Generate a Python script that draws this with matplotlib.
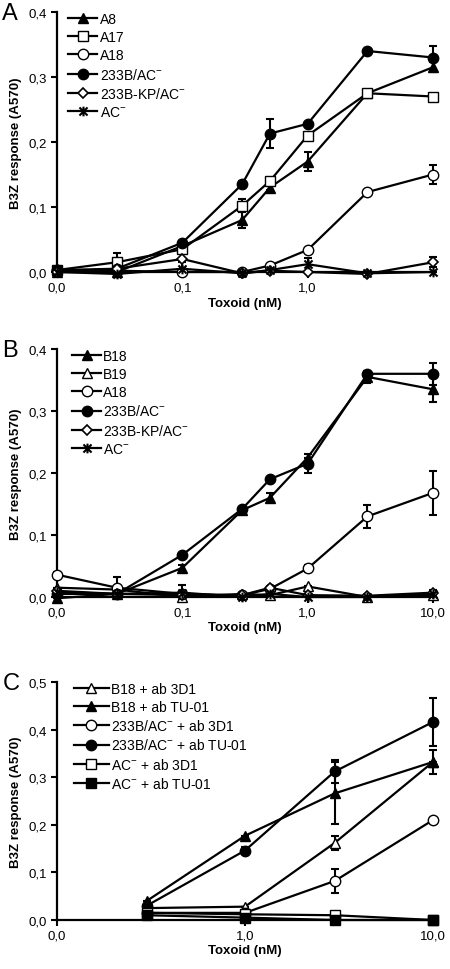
import numpy as np
import matplotlib
matplotlib.use('Agg')
import matplotlib.pyplot as plt
from matplotlib.path import Path

plt.rcParams['font.family'] = ['Liberation Sans', 'DejaVu Sans']
plt.rcParams['mathtext.fontset'] = 'custom'
plt.rcParams['mathtext.rm'] = 'Liberation Sans'

# doses (nM); the first point stands for no toxoid
dose_ab = [0.01, 0.03, 0.1, 0.3, 0.5, 1.0, 3.0, 10.0]
dose_c = [0.3, 1.0, 3.0, 10.0]

# panel A
a_A8 = [0.0, 0.0, 0.04, 0.08, 0.13, 0.17, 0.275, 0.315]
a_A8_err = [0, 0, 0, 0.012, 0.004, 0.015, 0, 0.008]
a_A17 = [0.003, 0.015, 0.035, 0.102, 0.14, 0.21, 0.275, 0.27]
a_A17_err = [0, 0.015, 0, 0.01, 0, 0, 0, 0]
a_A18 = [0.003, 0.002, 0.0, 0.0, 0.01, 0.034, 0.123, 0.15]
a_A18_err = [0, 0, 0, 0, 0, 0, 0, 0.015]
a_233B = [0.003, 0.005, 0.045, 0.135, 0.213, 0.228, 0.34, 0.33]
a_233B_err = [0, 0, 0, 0.005, 0.022, 0, 0, 0.018]
a_KP = [0.0, 0.005, 0.02, -0.002, 0.002, 0.0, -0.003, 0.015]
a_KP_err = [0, 0, 0, 0, 0, 0, 0, 0.008]
a_AC = [0.0, -0.003, 0.005, -0.002, 0.003, 0.012, -0.002, 0.0]
a_AC_err = [0, 0, 0.01, 0, 0, 0.01, 0, 0]

# panel B
b_B18 = [-0.002, 0.005, 0.047, 0.14, 0.16, 0.225, 0.355, 0.335]
b_B18_err = [0, 0, 0.005, 0, 0.007, 0, 0.01, 0.02]
b_B19 = [0.015, 0.012, 0.0, 0.005, 0.003, 0.017, 0.0, 0.003]
b_B19_err = [0, 0, 0, 0, 0, 0, 0, 0]
b_A18 = [0.036, 0.015, 0.005, 0.003, 0.013, 0.046, 0.13, 0.168]
b_A18_err = [0.005, 0.018, 0, 0, 0, 0.005, 0.018, 0.036]
b_233B = [0.005, 0.005, 0.068, 0.142, 0.19, 0.215, 0.36, 0.36]
b_233B_err = [0, 0, 0, 0, 0, 0.015, 0, 0.018]
b_KP = [0.01, 0.005, 0.003, 0.003, 0.015, 0.003, 0.002, 0.007]
b_KP_err = [0, 0, 0, 0, 0, 0, 0, 0.005]
b_AC = [0.008, 0.005, 0.007, 0.0, 0.005, 0.0, 0.0, 0.005]
b_AC_err = [0, 0, 0.012, 0, 0, 0, 0, 0]

# panel C
c_B18_3D1 = [0.025, 0.028, 0.162, 0.332]
c_B18_3D1_err = [0, 0, 0.015, 0.025]
c_B18_TU = [0.04, 0.177, 0.266, 0.332]
c_B18_TU_err = [0, 0, 0.065, 0]
c_233B_3D1 = [0.015, 0.015, 0.082, 0.21]
c_233B_3D1_err = [0, 0, 0.025, 0.005]
c_233B_TU = [0.03, 0.146, 0.312, 0.416]
c_233B_TU_err = [0, 0.008, 0.025, 0.05]
c_AC_3D1 = [0.015, 0.012, 0.01, 0.0]
c_AC_3D1_err = [0, 0, 0, 0]
c_AC_TU = [0.01, 0.005, 0.0, 0.0]
c_AC_TU_err = [0, 0, 0, 0]

AC = 'AC$^{-}$'

# asterisk-like marker: X plus vertical stroke
star = Path([(-1, -1), (1, 1), (-1, 1), (1, -1), (0, -1.2), (0, 1.2)],
            [Path.MOVETO, Path.LINETO, Path.MOVETO, Path.LINETO, Path.MOVETO, Path.LINETO])

STY = {
    'tri_f': dict(marker='^', mfc='black', ms=7),
    'tri_o': dict(marker='^', mfc='white', ms=7),
    'circ_o': dict(marker='o', mfc='white', ms=7.5),
    'circ_f': dict(marker='o', mfc='black', ms=7.5),
    'dia_o': dict(marker='D', mfc='white', ms=5, mew=1.2),
    'star': dict(marker=star, ms=7, mew=1.5),
    'sq_o': dict(marker='s', mfc='white', ms=7),
    'sq_f': dict(marker='s', mfc='black', ms=7),
}

panel_a = [
    ('A8', a_A8, a_A8_err, 'tri_f'),
    ('A17', a_A17, a_A17_err, 'sq_o'),
    ('A18', a_A18, a_A18_err, 'circ_o'),
    ('233B/' + AC, a_233B, a_233B_err, 'circ_f'),
    ('233B-KP/' + AC, a_KP, a_KP_err, 'dia_o'),
    (AC, a_AC, a_AC_err, 'star'),
]
panel_b = [
    ('B18', b_B18, b_B18_err, 'tri_f'),
    ('B19', b_B19, b_B19_err, 'tri_o'),
    ('A18', b_A18, b_A18_err, 'circ_o'),
    ('233B/' + AC, b_233B, b_233B_err, 'circ_f'),
    ('233B-KP/' + AC, b_KP, b_KP_err, 'dia_o'),
    (AC, b_AC, b_AC_err, 'star'),
]
panel_c = [
    ('B18 + ab 3D1', c_B18_3D1, c_B18_3D1_err, 'tri_o'),
    ('B18 + ab TU-01', c_B18_TU, c_B18_TU_err, 'tri_f'),
    ('233B/' + AC + ' + ab 3D1', c_233B_3D1, c_233B_3D1_err, 'circ_o'),
    ('233B/' + AC + ' + ab TU-01', c_233B_TU, c_233B_TU_err, 'circ_f'),
    (AC + ' + ab 3D1', c_AC_3D1, c_AC_3D1_err, 'sq_o'),
    (AC + ' + ab TU-01', c_AC_TU, c_AC_TU_err, 'sq_f'),
]

fig = plt.figure(figsize=(4.5, 9.7), dpi=100)
W, H = 450, 970


def make_axes(top, bottom, left=57, right=433):
    return fig.add_axes([left / W, 1 - bottom / H, (right - left) / W, (bottom - top) / H])


def draw(ax, x, series, xlim, xticks, xticklabels, ymax, letter, leg_x, leg_hl):
    for label, y, err, key in series:
        ax.errorbar(x, y, yerr=err, fmt='none', ecolor='black', elinewidth=1.5,
                    capsize=3, capthick=1.5, clip_on=False, zorder=2)
        ax.plot(x, y, color='black', lw=1.6, mec='black', label=label,
                clip_on=False, zorder=3, **STY[key])
    ax.set_xscale('log')
    ax.set_xlim(*xlim)
    ax.set_ylim(0, ymax)
    ax.set_xticks(xticks)
    ax.set_xticklabels(xticklabels)
    ax.minorticks_off()
    yt = np.round(np.arange(0, ymax + 0.001, 0.1), 1)
    ax.set_yticks(yt)
    ax.set_yticklabels([f'{v:.1f}'.replace('.', ',') for v in yt])
    for s in ['top', 'right']:
        ax.spines[s].set_visible(False)
    for s in ['left', 'bottom']:
        ax.spines[s].set_linewidth(1.6)
    ax.tick_params(direction='out', length=4, width=1.5, labelsize=9.5, pad=3)
    ax.set_xlabel('Toxoid (nM)', fontsize=9.5, fontweight='bold', labelpad=2)
    ax.set_ylabel('B3Z response (A570)', fontsize=9.5, fontweight='bold', labelpad=5)
    ax.legend(loc='upper left', bbox_to_anchor=(leg_x, 1.0), frameon=False,
              fontsize=10, handlelength=leg_hl, handletextpad=0.15, labelspacing=0.3,
              borderaxespad=0, borderpad=0)
    bb = ax.get_position()
    fig.text(0.005, bb.y1 - 0.001, letter, fontsize=17, ha='left', va='center')


axA = make_axes(13, 273)
draw(axA, dose_ab, panel_a, (0.01, 10), [0.01, 0.1, 1.0], ['0,0', '0,1', '1,0'],
     0.4, 'A', 0.03, 2.1)

axB = make_axes(350, 598)
draw(axB, dose_ab, panel_b, (0.01, 10), [0.01, 0.1, 1.0, 10.0],
     ['0,0', '0,1', '1,0', '10,0'], 0.4, 'B', 0.04, 2.1)

axC = make_axes(683, 921)
draw(axC, dose_c, panel_c, (0.1, 10), [0.1, 1.0, 10.0], ['0,0', '1,0', '10,0'],
     0.5, 'C', 0.045, 2.5)

fig.savefig('out.png', dpi=100)
